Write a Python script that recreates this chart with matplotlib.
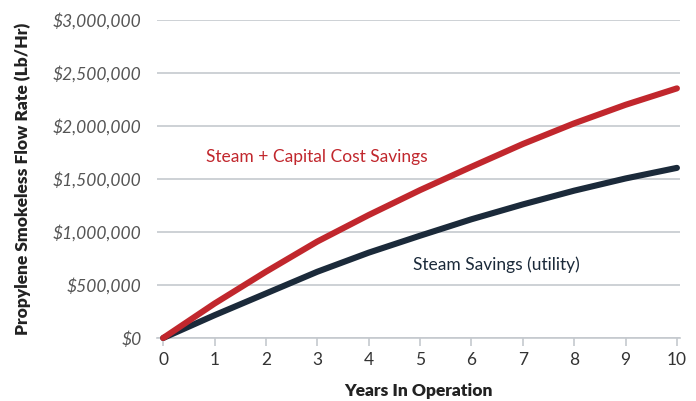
import matplotlib
matplotlib.use('Agg')
import matplotlib.pyplot as plt
from matplotlib.ticker import FuncFormatter

plt.rcParams['font.family'] = ['Lato', 'DejaVu Sans']

years = [0, 1, 2, 3, 4, 5, 6, 7, 8, 9, 10]
capital_savings = [0, 325000, 625000, 910000, 1160000, 1395000, 1615000, 1830000, 2025000, 2200000, 2355000]
steam_savings = [0, 215000, 420000, 625000, 805000, 965000, 1120000, 1260000, 1390000, 1505000, 1605000]
y_ticks = [0, 500000, 1000000, 1500000, 2000000, 2500000, 3000000]

red = '#c1272d'
navy = '#1b2a3a'
grid_gray = '#c5c9ce'

fig = plt.figure(figsize=(6.96, 4.01), dpi=100)
ax = fig.add_axes([157 / 696, 1 - 338 / 401, (680 - 157) / 696, (338 - 20) / 401])

ax.plot(years, steam_savings, color=navy, linewidth=4.4, solid_capstyle='round',
        zorder=3, clip_on=False)
ax.plot(years, capital_savings, color=red, linewidth=4.4, solid_capstyle='round',
        zorder=4, clip_on=False)

ax.text(3.0, 1707000, 'Steam + Capital Cost Savings', color=red, fontsize=12.5,
        ha='center', va='center')
ax.text(6.48, 689000, 'Steam Savings (utility)', color=navy, fontsize=12.5,
        ha='center', va='center')

ax.set_xlim(-0.12, 10.06)
ax.set_ylim(0, 3000000)
ax.set_xticks(years)
ax.set_yticks(y_ticks)
ax.yaxis.set_major_formatter(FuncFormatter(lambda v, p: '${:,.0f}'.format(v)))

ax.grid(axis='y', color=grid_gray, linewidth=1.2, zorder=0)
ax.set_axisbelow(True)
for side in ['top', 'right', 'left']:
    ax.spines[side].set_visible(False)
ax.spines['bottom'].set_color(grid_gray)
ax.spines['bottom'].set_linewidth(1.2)

ax.tick_params(axis='y', length=0, pad=11, labelsize=12.5, labelcolor='#555555')
ax.tick_params(axis='x', length=6, width=1.2, color=grid_gray, pad=4,
               labelsize=12.5, labelcolor='#333333')
for lbl in ax.get_yticklabels():
    lbl.set_fontstyle('italic')

ax.set_xlabel('Years In Operation', fontsize=12.5, fontweight='heavy', color='#222222',
              labelpad=11)
ax.set_ylabel('Propylene Smokeless Flow Rate (Lb/Hr)', fontsize=12.5, fontweight='heavy',
              color='#222222', labelpad=16)

fig.savefig('out.png', dpi=100)
